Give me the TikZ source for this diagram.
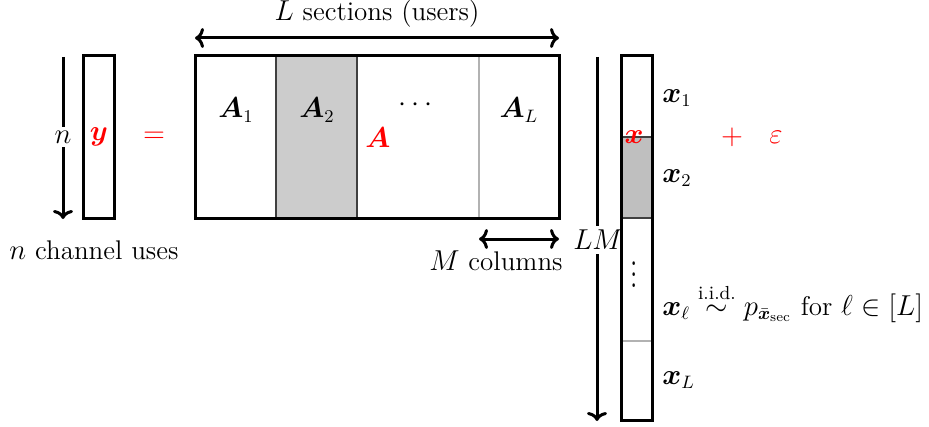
\documentclass[tikz,border=0pt]{standalone}
\usepackage{amsmath,bm,graphicx}
\usetikzlibrary{arrows.meta}
\definecolor{graya}{gray}{0.8}
\definecolor{grayb}{gray}{0.75}
\begin{document}
\begin{tikzpicture}[x=0.5pt,y=-0.5pt,
  font=\fontsize{13.5}{16}\selectfont,
  outer/.style={line width=1.5pt},
  sep/.style={line width=0.6pt,black!75},
  lsep/.style={line width=0.8pt,black!30},
  arr/.style={line width=1.5pt,-{To[length=4.5pt,width=10pt]}},
  darr/.style={line width=1.5pt,{To[length=4.5pt,width=10pt]}-{To[length=4.5pt,width=10pt]}},
  gap/.style={fill=white,inner sep=2pt},
  lbl/.style={inner sep=1pt}]
\useasboundingbox (0,0) rectangle (929,427);
% y vector
\node[draw,outer,minimum width=15.5pt,minimum height=81pt,inner sep=0pt] (yv) at (98.5,137) {};
\node[lbl] (ylab) at (99,137) {$\color{red}\bm{y}$};
\coordinate (nt) at (63,57);
\coordinate (nb) at (63,219);
\draw[arr] (nt) -- (nb);
\node[gap] (nlab) at (63,137) {$n$};
\node[lbl] (eq) at (154,137) {$\color{red}=$};
\node[lbl] (nuses) at (94,250) {$n$ channel uses};
% A matrix
\fill[graya] (276,56) rectangle (357,218);
\draw[sep] (276,56) -- (276,218);
\draw[sep] (357,56) -- (357,218);
\draw[lsep] (479,56) -- (479,218);
\node[draw,outer,minimum width=182pt,minimum height=81pt,inner sep=0pt] (Am) at (377,137) {};
\node[lbl] (A1) at (236,110) {$\bm{A}_1$};
\node[lbl] (A2) at (317,110) {$\bm{A}_2$};
\node[lbl] (Ad) at (418,105) {$\cdots$};
\node[lbl] (AL) at (519,110) {$\bm{A}_L$};
\node[lbl] (Ared) at (378,138) {$\color{red}\bm{A}$};
\coordinate (tl) at (195,38);
\coordinate (tr) at (559,38);
\draw[darr] (tl) -- (tr);
\node[lbl] (Lsec) at (377,14) {$L$ sections (users)};
\coordinate (ml) at (479,239);
\coordinate (mr) at (559,239);
\draw[darr] (ml) -- (mr);
\node[lbl] (Mcol) at (496,261) {$M$ columns};
% LM arrow
\coordinate (lmt) at (597,57);
\coordinate (lmb) at (597,421);
\draw[arr] (lmt) -- (lmb);
\node[gap] (LMlab) at (598,240) {$LM$};
% x vector
\fill[grayb] (621,137) rectangle (652,218);
\draw[sep] (621,137) -- (652,137);
\draw[sep] (621,218) -- (652,218);
\draw[lsep] (621,341) -- (652,341);
\node[draw,outer,minimum width=15.5pt,minimum height=182pt,inner sep=0pt] (xv) at (636.5,238) {};
\node[lbl,anchor=west] (x1) at (660,98) {$\bm{x}_1$};
\node[lbl,anchor=west] (x2) at (660,178) {$\bm{x}_2$};
\node[lbl] (xd) at (634,266) {\scalebox{1}[1.4]{$\vdots$}};
\node[lbl,anchor=west] (xl) at (660,303) {$\bm{x}_\ell \overset{\text{i.i.d.}}{\sim} p_{\bar{\bm{x}}_{\text{sec}}}$ for $\ell\in[L]$};
\node[lbl,anchor=west] (xL) at (660,380) {$\bm{x}_L$};
\node[lbl] (xred) at (634,137) {$\color{red}\bm{x}$};
\node[lbl] (plus) at (732,137) {$\color{red}+$};
\node[lbl] (eps) at (776,137) {$\color{red}\varepsilon$};
\end{tikzpicture}
\end{document}
